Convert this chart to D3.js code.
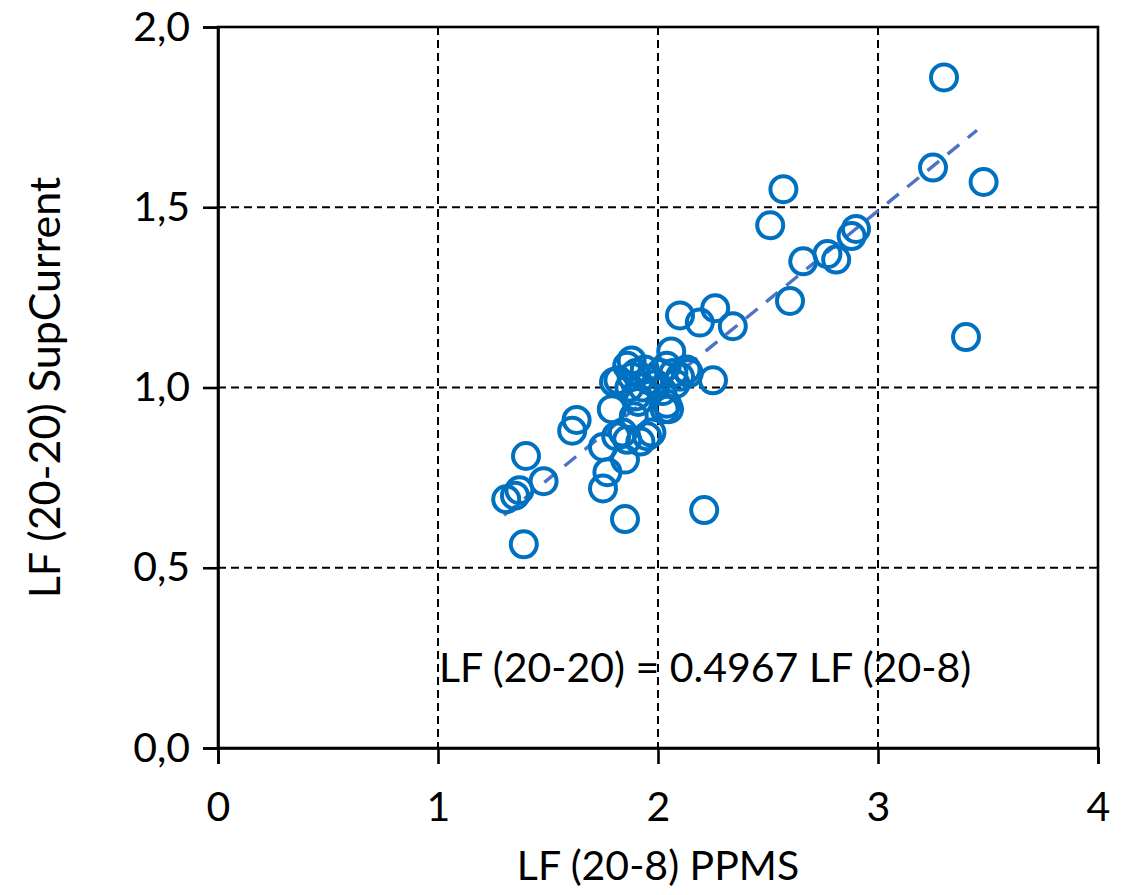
<!DOCTYPE html>
<html>
<head>
<meta charset="utf-8">
<script src="https://cdn.jsdelivr.net/npm/d3@7"></script>
<style>
  body { margin: 0; background: #fff; }
  text { font-family: Lato, "Open Sans", sans-serif; fill: #000; }
</style>
</head>
<body>
<div id="vis"></div>
<script>
// data
const ppms = [3.30, 3.25, 3.48, 3.40, 2.57, 2.51, 2.90, 2.88, 2.77, 2.81, 2.66, 2.60, 2.34, 2.26, 2.19, 2.10, 2.25, 2.21, 1.85, 1.39,
  1.40, 1.48, 1.31, 1.35, 1.37, 1.75, 1.77, 1.85, 1.63, 1.61, 1.75, 1.81, 1.86, 1.92, 1.97, 2.03, 1.79, 2.04,
  1.80, 1.86, 1.88, 1.90, 1.87, 1.90, 1.93, 1.96, 1.82, 1.91, 1.89, 1.84, 1.95,
  2.06, 2.04, 2.07, 2.10, 2.08, 2.02, 2.05, 2.13, 2.14, 2.01, 1.99, 1.88, 1.94];
const supCurrent = [1.86, 1.61, 1.57, 1.14, 1.55, 1.45, 1.44, 1.42, 1.37, 1.355, 1.35, 1.24, 1.17, 1.22, 1.18, 1.20, 1.02, 0.66, 0.635, 0.565,
  0.81, 0.74, 0.69, 0.70, 0.715, 0.72, 0.765, 0.80, 0.91, 0.88, 0.835, 0.865, 0.855, 0.85, 0.875, 0.94, 0.94, 0.955,
  1.015, 1.06, 1.075, 1.04, 1.00, 0.975, 1.00, 1.02, 1.02, 0.96, 0.92, 0.875, 0.865,
  1.10, 1.06, 1.04, 1.03, 1.01, 0.99, 0.94, 1.05, 1.04, 1.04, 1.01, 1.03, 1.05];
const slope = 0.4967;
const fitRange = [1.30, 3.45];
const xTicks = [0, 1, 2, 3, 4];
const yTicks = [0, 0.5, 1.0, 1.5, 2.0];

const margin = {top: 27, right: 32, bottom: 147, left: 218};
const width = 1130 - margin.left - margin.right;
const height = 895 - margin.top - margin.bottom;

const svg = d3.select('#vis')
  .append('svg')
  .attr('width', 1130)
  .attr('height', 895)
  .append('g')
  .attr('transform', `translate(${margin.left},${margin.top})`);

const xScale = d3.scaleLinear().domain([0, 4]).range([0, width]);
const yScale = d3.scaleLinear().domain([0, 2]).range([height, 0]);

// dashed grid
svg.selectAll('.vgrid')
  .data(xTicks.slice(1, -1))
  .join('line')
  .attr('class', 'vgrid')
  .attr('x1', d => xScale(d)).attr('x2', d => xScale(d))
  .attr('y1', 0).attr('y2', height)
  .attr('stroke', '#000').attr('stroke-width', 2).attr('stroke-dasharray', '8,5');
svg.selectAll('.hgrid')
  .data(yTicks.slice(1, -1))
  .join('line')
  .attr('class', 'hgrid')
  .attr('x1', 0).attr('x2', width)
  .attr('y1', d => yScale(d)).attr('y2', d => yScale(d))
  .attr('stroke', '#000').attr('stroke-width', 2).attr('stroke-dasharray', '8,5');

// frame
svg.append('rect')
  .attr('x', 0).attr('y', 0).attr('width', width).attr('height', height)
  .attr('fill', 'none').attr('stroke', '#000').attr('stroke-width', 2.6);

// axes
const fmtY = d => d3.format('.1f')(d).replace('.', ',');
const xAxis = svg.append('g')
  .attr('transform', `translate(0,${height})`)
  .call(d3.axisBottom(xScale).tickValues(xTicks).tickSize(16).tickPadding(28).tickFormat(d3.format('d')));
const yAxis = svg.append('g')
  .call(d3.axisLeft(yScale).tickValues(yTicks).tickSize(15).tickPadding(13).tickFormat(fmtY));
[xAxis, yAxis].forEach(a => {
  a.select('.domain').attr('stroke-width', 2.6);
  a.selectAll('.tick line').attr('stroke-width', 2.6);
  a.selectAll('.tick text').style('font-size', '41px').attr('fill', '#000');
});

// fit line
svg.append('line')
  .attr('x1', xScale(fitRange[0])).attr('y1', yScale(slope * fitRange[0]))
  .attr('x2', xScale(fitRange[1])).attr('y2', yScale(slope * fitRange[1]))
  .attr('stroke', '#4f73c4').attr('stroke-width', 3.4).attr('stroke-dasharray', '15,11');

// points
svg.selectAll('.point')
  .data(ppms.map((d, i) => ({x: d, y: supCurrent[i]})))
  .join('circle')
  .attr('class', 'point')
  .attr('cx', d => xScale(d.x))
  .attr('cy', d => yScale(d.y))
  .attr('r', 13)
  .attr('fill', 'none')
  .attr('stroke', '#0070c0')
  .attr('stroke-width', 4);

// equation
svg.append('text')
  .attr('x', xScale(2.214))
  .attr('y', yScale(0.183))
  .attr('text-anchor', 'middle')
  .style('font-size', '41px')
  .text('LF (20-20) = 0.4967 LF (20-8)');

// axis labels
svg.append('text')
  .attr('x', width / 2)
  .attr('y', height + 132)
  .attr('text-anchor', 'middle')
  .style('font-size', '41px')
  .text('LF (20-8) PPMS');
svg.append('text')
  .attr('transform', 'rotate(-90)')
  .attr('x', -yScale(1.0))
  .attr('y', -158)
  .attr('text-anchor', 'middle')
  .style('font-size', '43px')
  .text('LF (20-20) SupCurrent');
</script>
</body>
</html>
